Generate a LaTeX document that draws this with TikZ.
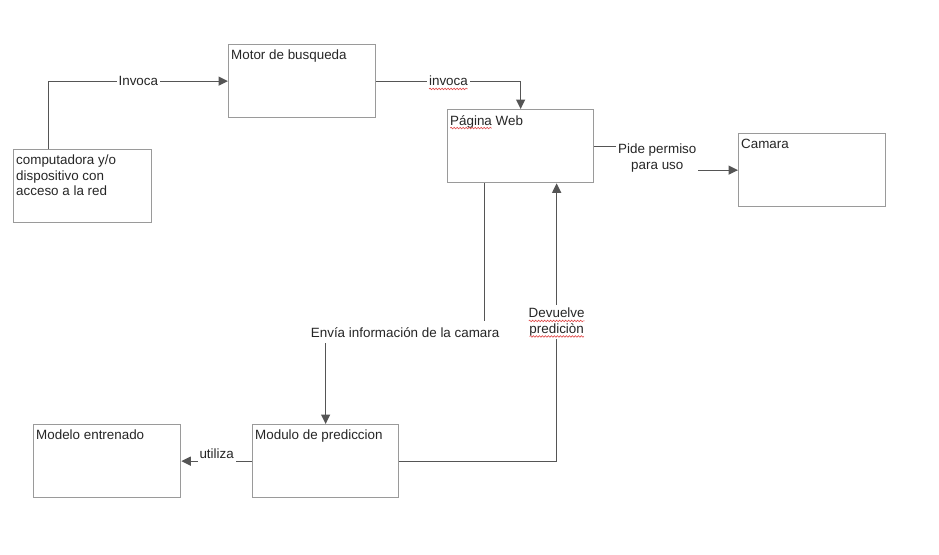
\documentclass[tikz,border=0pt]{standalone}
\usepackage{fontspec}
\setmainfont{Liberation Sans}
\usetikzlibrary{arrows.meta,decorations.pathmorphing}

\definecolor{boxline}{HTML}{9A9A9A}
\definecolor{wire}{HTML}{555555}
\definecolor{ink}{HTML}{262626}
\definecolor{spellred}{HTML}{E04848}

\newcommand\txtfont{\fontsize{13.4}{15.5}\selectfont}

% wavy red underline, as a spell checker marks a word
\newcommand\spellmark[1]{\tikz[baseline=(w.base), x=1pt, y=1pt]{%
  \node[inner sep=0pt, outer sep=0pt] (w) {#1};
  \draw[overlay, -, spellred, line width=0.6pt, decorate,
        decoration={snake, amplitude=0.8pt, segment length=3pt}]
    ([yshift=-3pt]w.base west) -- ([yshift=-3pt]w.base east);}}

\tikzset{
  box/.style={draw=boxline, line width=1.3pt, fill=white, anchor=north west,
              minimum height=73pt, inner sep=0pt},
  title/.style={anchor=north west, inner xsep=3pt, inner ysep=6pt,
                font=\txtfont, text=ink, align=left},
  conn/.style={draw=wire, line width=1.3pt, -{Triangle[length=9.5pt,width=9pt]}},
  lbl/.style={fill=white, inner xsep=2pt, inner ysep=3pt, font=\txtfont, text=ink}
}

\begin{document}
\begin{tikzpicture}[x=1pt, y=-1pt]
  \fill[white] (0,0) rectangle (939,554);
  \useasboundingbox (0,0) rectangle (939,554);

  % boxes
  \node[box, minimum width=138pt] (pc)  at (13,149)  {};
  \node[box, minimum width=147pt] (ms)  at (228,44)  {};
  \node[box, minimum width=146pt] (pw)  at (447,109) {};
  \node[box, minimum width=147pt] (cam) at (738,133) {};
  \node[box, minimum width=147pt] (me)  at (33,424)  {};
  \node[box, minimum width=146pt] (mp)  at (252,424) {};

  % box titles
  \node[title] (pct)  at (pc.north west)  {computadora y/o\\dispositivo con\\acceso a la red};
  \node[title] (mst)  at (ms.north west)  {Motor de busqueda};
  \node[title] (pwt)  at (pw.north west)  {\spellmark{Página} Web};
  \node[title] (camt) at (cam.north west) {Camara};
  \node[title] (met)  at (me.north west)  {Modelo entrenado};
  \node[title] (mpt)  at (mp.north west)  {Modulo de prediccion};

  % connectors
  \draw[conn] ([xshift=-34pt]pc.north) |- node[lbl, pos=0.75] (l1) {Invoca} (ms.west);
  \draw[conn] (ms.east) -| node[lbl, pos=0.25] (l2) {\spellmark{invoca}} (pw.north);
  \draw[conn] (pw.east) -- ++(63,0) |- node[lbl, pos=0.25, align=center] (l3)
      {Pide permiso\\para uso} (cam.west);
  \draw[conn] ([xshift=-36pt]pw.south) -- ++(0,149) -| node[lbl, pos=0.25, inner ysep=6pt] (l4)
      {Envía información de la camara} (mp.north);
  \draw[conn] (mp.east) -| node[lbl, pos=0.75, align=center] (l5)
      {\spellmark{Devuelve}\\\spellmark{prediciòn}} ([xshift=36pt]pw.south);
  \draw[conn] (mp.west) -- node[lbl, yshift=7pt] (l6) {utiliza} (me.east);
\end{tikzpicture}
\end{document}
